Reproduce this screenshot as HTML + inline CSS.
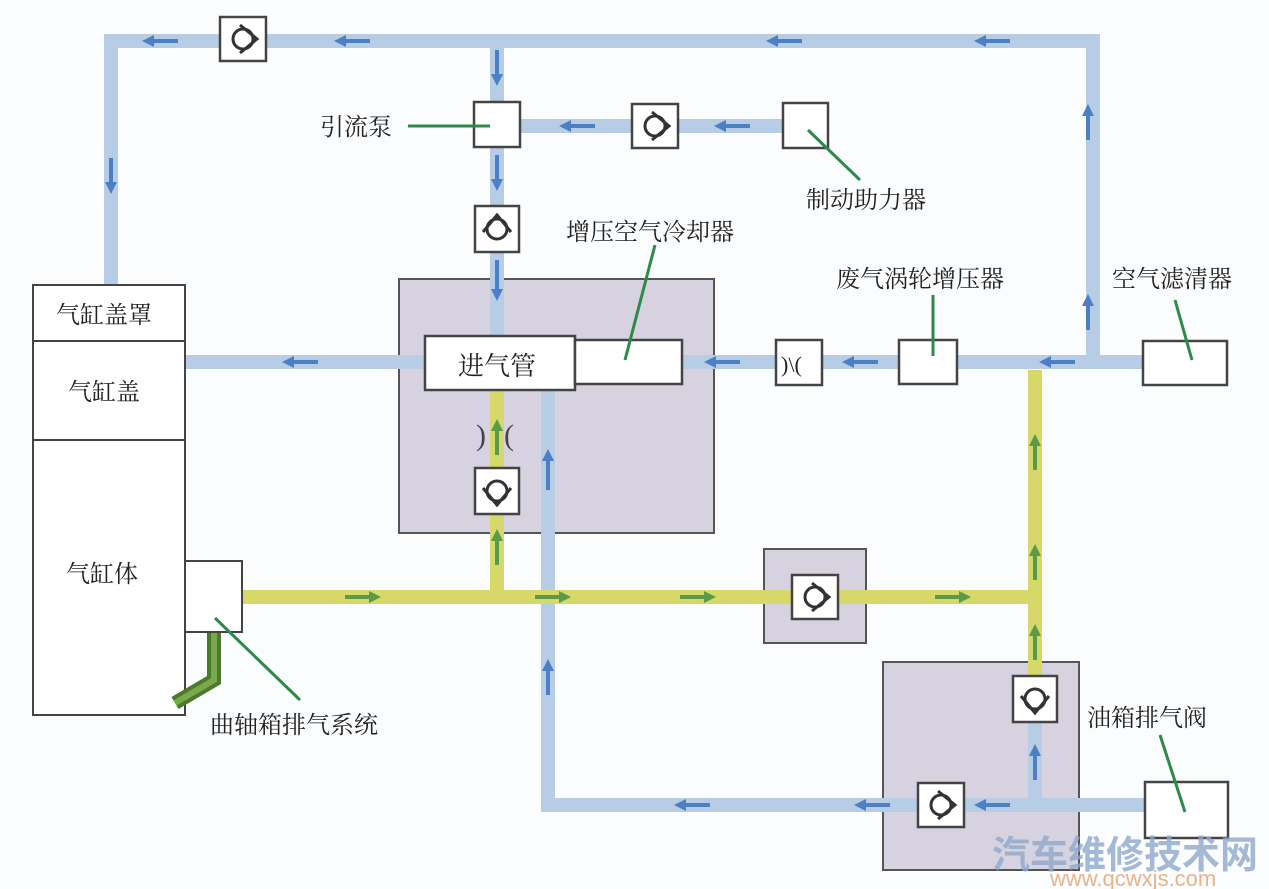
<!DOCTYPE html>
<html><head><meta charset="utf-8"><style>
html,body{margin:0;padding:0;background:#fbfcfd;}
svg{display:block}
text{font-family:"Liberation Serif","Noto Serif CJK SC","Noto Sans CJK SC",serif;font-size:24px;fill:#222}
</style></head><body>
<svg width="1269" height="889" viewBox="0 0 1269 889" xmlns="http://www.w3.org/2000/svg">
<defs>
<marker id="a" viewBox="0 0 10 10" refX="5" refY="5" markerWidth="3" markerHeight="3" orient="auto"><path d="M0,0L10,5L0,10z" fill="#4d7fc4"/></marker>
<marker id="g" viewBox="0 0 10 10" refX="5" refY="5" markerWidth="3" markerHeight="3" orient="auto"><path d="M0,0L10,5L0,10z" fill="#5a9a48"/></marker>
<g id="cv"><rect x="-22" y="-23" width="44" height="46" fill="#fff" stroke="#444" stroke-width="2.5"/><circle cx="0" cy="0" r="10" fill="none" stroke="#333" stroke-width="3"/><path d="M-14,-3 L0,14 L14,-3" fill="none" stroke="#333" stroke-width="3"/></g>
</defs>
<rect x="399" y="279" width="315" height="254" fill="#d7d2e0" stroke="#555" stroke-width="2"/>
<rect x="764" y="549" width="102" height="94" fill="#d7d2e0" stroke="#555" stroke-width="2"/>
<rect x="883" y="662" width="196" height="208" fill="#d7d2e0" stroke="#555" stroke-width="2"/>
<g stroke="#b6cde5" stroke-width="14" fill="none" stroke-linecap="square">
<path d="M111,285 V41 H1093 V362"/>
<path d="M497,41 V336"/>
<path d="M497,126 H790"/>
<path d="M185,362 H425"/>
<path d="M682,362 H1143"/>
<path d="M548,390 V805 H1145"/>
<path d="M1035,722 V805"/>
</g>
<g stroke="#d6d96a" stroke-width="14" fill="none">
<path d="M242,597 H1035"/>
<path d="M497,390 V597"/>
<path d="M1035,370 V680"/>
</g>
<g stroke="#4d7fc4" stroke-width="4" marker-end="url(#a)">
<line x1="178" y1="41" x2="148" y2="41"/><line x1="370" y1="41" x2="340" y2="41"/>
<line x1="802" y1="41" x2="772" y2="41"/><line x1="1010" y1="41" x2="980" y2="41"/>
<line x1="111" y1="158" x2="111" y2="188"/>
<line x1="1088" y1="330" x2="1088" y2="300"/><line x1="1088" y1="140" x2="1088" y2="110"/>
<line x1="497" y1="50" x2="497" y2="80"/><line x1="497" y1="155" x2="497" y2="185"/><line x1="497" y1="260" x2="497" y2="295"/>
<line x1="595" y1="126" x2="565" y2="126"/><line x1="750" y1="126" x2="720" y2="126"/>
<line x1="318" y1="362" x2="288" y2="362"/><line x1="740" y1="362" x2="710" y2="362"/>
<line x1="878" y1="362" x2="848" y2="362"/><line x1="1075" y1="362" x2="1045" y2="362"/>
<line x1="548" y1="490" x2="548" y2="455"/><line x1="548" y1="695" x2="548" y2="665"/>
<line x1="1035" y1="780" x2="1035" y2="750"/>
<line x1="710" y1="805" x2="680" y2="805"/><line x1="1010" y1="805" x2="980" y2="805"/><line x1="890" y1="805" x2="860" y2="805"/>
</g>
<g stroke="#5a9a48" stroke-width="4" marker-end="url(#g)">
<line x1="345" y1="597" x2="375" y2="597"/><line x1="535" y1="597" x2="565" y2="597"/>
<line x1="680" y1="597" x2="710" y2="597"/><line x1="935" y1="597" x2="965" y2="597"/>
<line x1="497" y1="455" x2="497" y2="425"/><line x1="497" y1="565" x2="497" y2="535"/>
<line x1="1035" y1="470" x2="1035" y2="440"/><line x1="1035" y1="580" x2="1035" y2="550"/><line x1="1035" y1="660" x2="1035" y2="630"/>
</g>
<rect x="33" y="285" width="152" height="56" fill="#fff" stroke="#444" stroke-width="2"/>
<rect x="33" y="341" width="152" height="99" fill="#fff" stroke="#444" stroke-width="2"/>
<rect x="33" y="440" width="152" height="275" fill="#fff" stroke="#444" stroke-width="2"/>
<path d="M214,632 V680 L175,703" stroke="#4c7a2c" stroke-width="14" fill="none"/>
<path d="M214,632 V680 L175,703" stroke="#7aa84c" stroke-width="6" fill="none"/>
<rect x="185" y="561" width="57" height="71" fill="#fff" stroke="#444" stroke-width="2"/>
<rect x="474" y="102" width="46" height="45" fill="#fff" stroke="#444" stroke-width="2.5"/>
<rect x="783" y="103" width="45" height="45" fill="#fff" stroke="#444" stroke-width="2.5"/>
<rect x="425" y="336" width="150" height="54" fill="#fff" stroke="#444" stroke-width="2.5"/>
<rect x="575" y="340" width="107" height="44" fill="#fff" stroke="#444" stroke-width="2.5"/>
<rect x="776" y="340" width="46" height="45" fill="#fff" stroke="#444" stroke-width="2.5"/>
<text x="781" y="372" style="font-size:22px">)\(</text>
<rect x="899" y="340" width="58" height="44" fill="#fff" stroke="#444" stroke-width="2.5"/>
<rect x="1143" y="341" width="84" height="44" fill="#fff" stroke="#444" stroke-width="2.5"/>
<rect x="1145" y="782" width="83" height="56" fill="#fff" stroke="#444" stroke-width="2.5"/>
<text x="476" y="445" style="font-size:30px;fill:#444">)</text><text x="504" y="445" style="font-size:30px;fill:#444">(</text>
<use href="#cv" transform="translate(243,39) rotate(-90)"/>
<use href="#cv" transform="translate(655,126) rotate(-90)"/>
<use href="#cv" transform="translate(497,229) rotate(180)"/>
<use href="#cv" transform="translate(497,491)"/>
<use href="#cv" transform="translate(815,597) rotate(-90)"/>
<use href="#cv" transform="translate(1035,699)"/>
<use href="#cv" transform="translate(941,805) rotate(-90)"/>
<g stroke="#2e8a4a" stroke-width="3">
<line x1="408" y1="126" x2="490" y2="126"/>
<line x1="808" y1="130" x2="860" y2="180"/>
<line x1="655" y1="245" x2="625" y2="360"/>
<line x1="933" y1="295" x2="933" y2="356"/>
<line x1="1175" y1="300" x2="1192" y2="360"/>
<line x1="1160" y1="735" x2="1185" y2="812"/>
<line x1="215" y1="618" x2="300" y2="700"/>
</g>
<text x="320" y="135">引流泵</text>
<text x="806" y="208">制动助力器</text>
<text x="566" y="240">增压空气冷却器</text>
<text x="836" y="287">废气涡轮增压器</text>
<text x="1112" y="287">空气滤清器</text>
<text x="56" y="323">气缸盖罩</text>
<text x="68" y="400">气缸盖</text>
<text x="66" y="582">气缸体</text>
<text x="458" y="375" style="font-size:26px">进气管</text>
<text x="210" y="733">曲轴箱排气系统</text>
<text x="1087" y="726">油箱排气阀</text>
<text x="992" y="868" style="font-family:'Noto Sans CJK SC',sans-serif;font-size:38px;font-weight:bold;fill:#8fa9cc;opacity:0.8">汽车维修技术网</text>
<text x="1050" y="886" style="font-family:'Liberation Sans',sans-serif;font-size:22px;fill:#e8b48a">www.qcwxjs.com</text>
</svg>
</body></html>
